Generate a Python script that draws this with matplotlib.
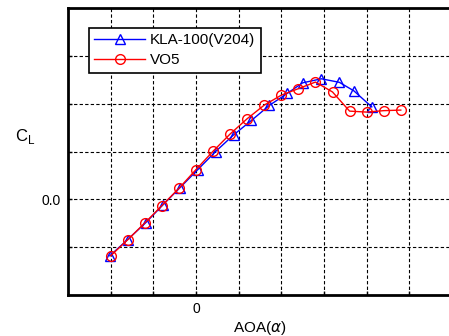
import matplotlib.pyplot as plt

plt.rcParams['font.family'] = ['Liberation Sans', 'DejaVu Sans']
plt.rcParams['mathtext.fontset'] = 'custom'
plt.rcParams['mathtext.rm'] = 'Liberation Sans'

# KLA-100(V204)
aoa_kla = [-10.1, -8.0, -5.9, -3.9, -1.9, 0.2, 2.3, 4.4, 6.5, 8.6, 10.7, 12.5, 14.7, 16.8, 18.5, 20.6]
cl_kla = [-0.59, -0.42, -0.245, -0.06, 0.12, 0.31, 0.50, 0.673, 0.825, 0.982, 1.108, 1.218, 1.26, 1.223, 1.134, 0.966]

# VO5
aoa_vo5 = [-10, -8, -6, -4, -2, 0, 2, 4, 6, 8, 10, 12, 14, 16, 18, 20, 22, 24]
cl_vo5 = [-0.59, -0.422, -0.247, -0.066, 0.115, 0.311, 0.503, 0.683, 0.843, 0.985, 1.089, 1.157,
          1.226, 1.122, 0.922, 0.912, 0.927, 0.933]

x_ticks = [-10, -5, 0, 5, 10, 15, 20, 25]
y_ticks = [-0.5, 0.0, 0.5, 1.0, 1.5]

fig = plt.figure(figsize=(4.49, 3.36), dpi=100)
ax = fig.add_axes([68 / 449, 41 / 336, 384 / 449, 287 / 336])

ax.plot(aoa_kla, cl_kla, color='#0000ff', lw=1.0, marker='^', ms=7, mfc='none', mew=1.0,
        label='KLA-100(V204)')
ax.plot(aoa_vo5, cl_vo5, color='#ff0000', lw=1.0, marker='o', ms=7, mfc='none', mew=1.0,
        label='VO5')

ax.set_xlim(-15, 30)
ax.set_ylim(-1.0, 2.0)
ax.set_xticks(x_ticks)
ax.set_xticklabels(['0' if t == 0 else '' for t in x_ticks])
ax.set_yticks(y_ticks)
ax.set_yticklabels(['0.0' if t == 0 else '' for t in y_ticks])
ax.tick_params(direction='in', length=3, width=1, labelsize=10, pad=5)
ax.grid(True, color='black', linestyle=(0, (3, 2)), linewidth=0.8)
for s in ax.spines.values():
    s.set_linewidth(2)

ax.set_xlabel('AOA($\\alpha$)', fontsize=11, labelpad=2)
fig.text(25 / 449, 1 - 137 / 336, 'C$_\\mathregular{L}$', fontsize=12, ha='center', va='center')

leg = ax.legend(loc='upper left', bbox_to_anchor=(21 / 384, 1 - 20 / 287), fontsize=11,
                frameon=True, fancybox=False, edgecolor='black', framealpha=1,
                handlelength=3.3, borderpad=0.35, labelspacing=0.4, handletextpad=0.35,
                borderaxespad=0)
leg.get_frame().set_linewidth(1.2)

fig.savefig('out.png', dpi=100)
